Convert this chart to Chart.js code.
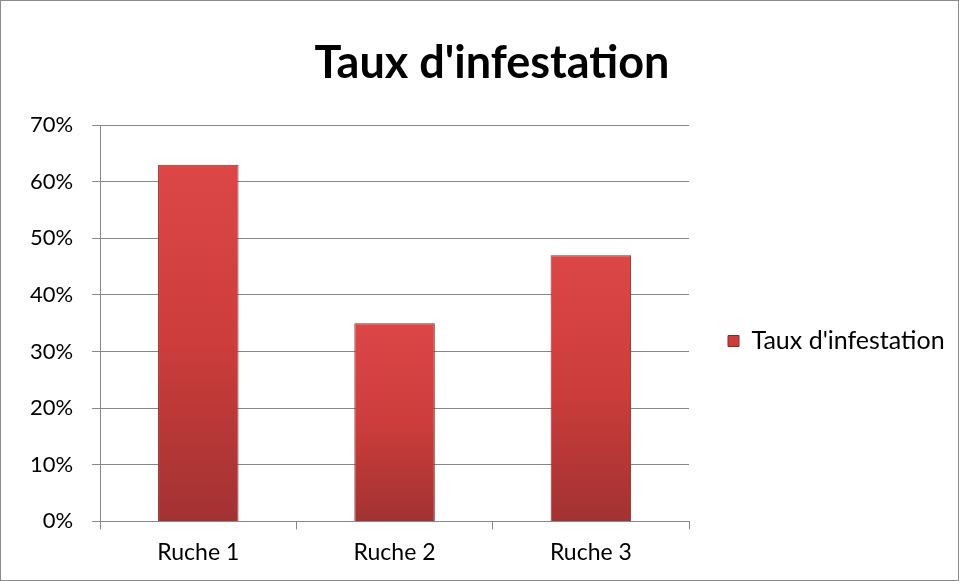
<!DOCTYPE html>
<html>
<head>
<meta charset="utf-8">
<script src="https://cdn.jsdelivr.net/npm/chart.js@4.4.0/dist/chart.umd.min.js"></script>
<style>
  html, body { margin: 0; padding: 0; background: #fff; }
  #wrap { width: 959px; height: 581px; box-sizing: border-box; border: 1px solid #8c8c8c; background: #fff; }
</style>
</head>
<body>
<div id="wrap"><canvas id="mycanvas" width="957" height="579"></canvas></div>
<script>
var ruches = ["Ruche 1", "Ruche 2", "Ruche 3"];
var tauxInfestation = [63, 35, 47];
var yTicks = [0, 10, 20, 30, 40, 50, 60, 70];
var serieLabel = "Taux d'infestation";
var titre = "Taux d'infestation";

var gridColor = "#888888";
var fontFam = "Lato, 'Open Sans', sans-serif";

// degrade vertical pour chaque barre
function barFill(ctx) {
    var chart = ctx.chart;
    var y = chart.scales && chart.scales.y;
    if (!y || !chart.chartArea || ctx.parsed === undefined) return "#c83a38";
    var top = y.getPixelForValue(ctx.parsed.y);
    var bottom = y.getPixelForValue(0);
    if (!isFinite(top) || !isFinite(bottom) || top === bottom) return "#c83a38";
    var g = chart.ctx.createLinearGradient(0, top, 0, bottom);
    g.addColorStop(0, "#dc4746");
    g.addColorStop(0.5, "#cc3d3b");
    g.addColorStop(1, "#a23232");
    return g;
}

// decale legende et titre, comme dans Excel
var shiftBoxes = {
    id: "shiftBoxes",
    afterLayout: function (chart) {
        var l = chart.legend;
        if (l) {
            l.left += 29; l.right += 29;
            l.top += 53; l.bottom += 53;
        }
        var t = chart.titleBlock;
        if (t) {
            t.left += 29; t.right += 29;
        }
    }
};

var ctx = document.getElementById("mycanvas");
var chart = new Chart(ctx, {
    type: "bar",
    data: {
        labels: ruches,
        datasets: [{
            label: serieLabel,
            data: tauxInfestation,
            backgroundColor: barFill,
            borderColor: "#8f2a29",
            borderWidth: 1,
            categoryPercentage: 1,
            barPercentage: 0.41
        }]
    },
    options: {
        responsive: false,
        animation: false,
        layout: { padding: { left: 10, right: 43, top: 0, bottom: 5 } },
        plugins: {
            title: {
                display: true,
                text: titre,
                color: "#000",
                font: { family: fontFam, size: 45, weight: "bold" },
                padding: { top: 35, bottom: 35 }
            },
            legend: {
                display: true,
                position: "right",
                labels: {
                    color: "#000",
                    font: { family: fontFam, size: 25 },
                    boxWidth: 11,
                    boxHeight: 11,
                    padding: 10,
                    generateLabels: function (c) {
                        return [{
                            text: serieLabel,
                            fillStyle: "#cc3d3b",
                            strokeStyle: "#8f2a29",
                            lineWidth: 1,
                            datasetIndex: 0
                        }];
                    }
                }
            },
            tooltip: { enabled: false }
        },
        scales: {
            x: {
                grid: {
                    display: true,
                    offset: true,
                    drawOnChartArea: false,
                    drawTicks: true,
                    tickLength: 8,
                    color: gridColor
                },
                border: { display: true, color: gridColor, width: 1 },
                ticks: { color: "#000", font: { family: fontFam, size: 23 }, padding: 9 }
            },
            y: {
                min: 0,
                max: 70,
                afterBuildTicks: function (axis) {
                    axis.ticks = yTicks.map(function (v) { return { value: v }; });
                },
                grid: { color: gridColor, tickLength: 8, lineWidth: 1 },
                border: { display: true, color: gridColor, width: 1 },
                ticks: {
                    color: "#000",
                    font: { family: fontFam, size: 22 },
                    padding: 19,
                    callback: function (v) { return v + "%"; }
                }
            }
        }
    },
    plugins: [shiftBoxes]
});
</script>
</body>
</html>
